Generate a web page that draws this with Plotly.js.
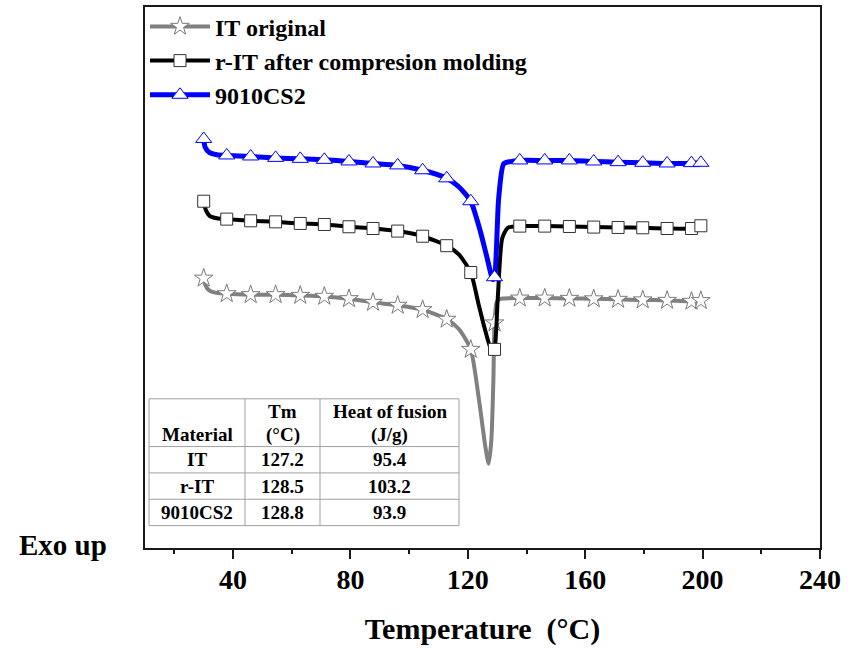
<!DOCTYPE html>
<html>
<head>
<meta charset="utf-8">
<script src="https://cdn.plot.ly/plotly-3.0.1.min.js"></script>
<style>html,body{margin:0;padding:0;background:#fff;}#chart{width:854px;height:650px;}</style>
</head>
<body>
<div id="chart"></div>
<script>
// ---- Data (temperature in °C, heat flow in arbitrary units, exo up) ----
const SERIES_NAMES = ["IT original", "r-IT after compresion molding", "9010CS2"];

const T_IT = [30, 30.5, 31.5, 33.5, 37.85, 46.0, 54.5, 62.9, 71.1, 79.5, 87.7, 96.1, 104.6, 112.8, 117.0, 121.0, 123.7, 126.0, 127.1, 128.0, 128.7, 129.1, 129.8, 131.0, 137.7, 146.2, 154.6, 162.9, 171.2, 179.6, 187.9, 196.2, 199.4];
const Y_IT = [49.87, 48.71, 47.79, 47.24, 47.00, 46.82, 46.82, 46.69, 46.51, 46.08, 45.40, 44.85, 44.06, 42.28, 40.44, 36.71, 27.81, 18.62, 15.57, 19.85, 30.88, 41.60, 45.40, 46.05, 46.19, 46.19, 46.14, 46.05, 45.96, 45.86, 45.77, 45.59, 45.72];

const T_RIT = [30, 30.7, 32, 34.5, 37.85, 46.0, 54.5, 62.9, 71.1, 79.5, 87.7, 96.1, 104.6, 112.8, 117.0, 121.0, 123.7, 126.0, 128.3, 129.1, 130.2, 131.7, 133.6, 137.7, 146.2, 154.6, 162.9, 171.2, 179.6, 187.9, 196.2, 199.4];
const Y_RIT = [64.10, 62.50, 61.40, 60.94, 60.79, 60.48, 60.29, 59.99, 59.80, 59.38, 59.06, 58.58, 57.63, 55.88, 54.23, 50.92, 44.98, 40.07, 36.12, 36.71, 46.19, 57.22, 59.19, 59.50, 59.50, 59.43, 59.32, 59.25, 59.19, 59.06, 59.06, 59.56];

const T_CS2 = [30, 30.5, 32, 34.5, 37.85, 46.0, 54.5, 62.9, 71.1, 79.5, 87.7, 96.1, 104.6, 112.8, 117.0, 121.0, 124.3, 126.6, 128.5, 129.1, 130.5, 132.2, 134.5, 137.7, 146.2, 154.6, 162.9, 171.2, 179.6, 187.9, 196.2, 199.4];
const Y_CS2 = [75.61, 74.08, 73.07, 72.70, 72.56, 72.37, 72.11, 71.93, 71.75, 71.45, 71.08, 70.72, 69.82, 68.33, 66.73, 64.10, 58.46, 53.55, 49.63, 50.05, 64.58, 71.01, 71.42, 71.64, 71.64, 71.64, 71.45, 71.32, 71.20, 71.08, 71.14, 71.20];

// temperatures at which the symbols are drawn
const MARKER_T = [30, 37.85, 46.0, 54.5, 62.9, 71.1, 79.5, 87.7, 96.1, 104.6, 112.8, 121.0, 129.1, 137.7, 146.2, 154.6, 162.9, 171.2, 179.6, 187.9, 196.2, 199.4];

// inset table
const TABLE_HEADER = [["Material"], ["Tm", "(°C)"], ["Heat of fusion", "(J/g)"]];
const TABLE_MATERIAL = ["IT", "r-IT", "9010CS2"];
const TABLE_TM = ["127.2", "128.5", "128.8"];
const TABLE_HF = ["95.4", "103.2", "93.9"];

const X_TICKS = [40, 80, 120, 160, 200, 240];

// ---- Chart ----
const FONT = "Liberation Serif, Times New Roman, serif";
const W = 854, H = 650, ML = 145, MR = 34, MT = 4, MB = 102;
const PW = W - ML - MR, PH = H - MT - MB;
const px2x = p => (p - ML) / PW;            // page px -> paper x
const px2y = p => (H - MB - p) / PH;        // page px -> paper y

function curve(name, T, Y, lineColor, lineWidth, symbol, size, edgeColor) {
  const isM = T.map(t => MARKER_T.indexOf(t) >= 0);
  return {
    type: "scatter", mode: "lines+markers", name: name,
    x: T, y: Y,
    line: {color: lineColor, width: lineWidth, shape: "spline", smoothing: 0.6},
    marker: {
      symbol: symbol, size: size,
      color: isM.map(m => m ? "#ffffff" : "rgba(0,0,0,0)"),
      line: {width: 1, color: isM.map(m => m ? edgeColor : "rgba(0,0,0,0)")}
    },
    hoverinfo: "skip"
  };
}

const traces = [
  curve(SERIES_NAMES[0], T_IT, Y_IT, "#808080", 4, "star", 14, "#7a7a7a"),
  curve(SERIES_NAMES[1], T_RIT, Y_RIT, "#000000", 4, "square", 12, "#333333"),
  curve(SERIES_NAMES[2], T_CS2, Y_CS2, "#0000ff", 5, "triangle-up", 14, "#0000ff")
];

// ---- inset table built from the arrays ----
const TB = {left: 149, right: 459, top: 398, colEdges: [149, 245, 320, 459], headerH: 48, rowH: 26.5, lineGap: 23};
const tableShapes = [];
const tableAnn = [];
const nRows = TABLE_MATERIAL.length;
const bottom = TB.top + TB.headerH + nRows * TB.rowH;
const gridLine = {color: "#a0a0a0", width: 1};
tableShapes.push({type: "rect", xref: "paper", yref: "paper", x0: px2x(TB.left), x1: px2x(TB.right), y0: px2y(bottom), y1: px2y(TB.top), line: gridLine, fillcolor: "#ffffff", layer: "below"});
TB.colEdges.slice(1, -1).forEach(cx => tableShapes.push({type: "line", xref: "paper", yref: "paper", x0: px2x(cx), x1: px2x(cx), y0: px2y(bottom), y1: px2y(TB.top), line: gridLine}));
for (let r = 0; r < nRows; r++) {
  const ry = TB.top + TB.headerH + r * TB.rowH;
  tableShapes.push({type: "line", xref: "paper", yref: "paper", x0: px2x(TB.left), x1: px2x(TB.right), y0: px2y(ry), y1: px2y(ry), line: gridLine});
}
const cellFont = {family: FONT, size: 19, color: "#000", weight: "bold"};
TABLE_HEADER.forEach((lines, c) => {
  const cx = (TB.colEdges[c] + TB.colEdges[c + 1]) / 2;
  lines.forEach((ln, i) => {
    const cy = TB.top + TB.headerH - 12 - (lines.length - 1 - i) * TB.lineGap;
    tableAnn.push({text: ln, xref: "paper", yref: "paper", x: px2x(cx), y: px2y(cy), xanchor: "center", yanchor: "middle", showarrow: false, font: cellFont});
  });
});
[TABLE_MATERIAL, TABLE_TM, TABLE_HF].forEach((col, c) => {
  const cx = (TB.colEdges[c] + TB.colEdges[c + 1]) / 2;
  col.forEach((v, r) => {
    const cy = TB.top + TB.headerH + (r + 0.5) * TB.rowH;
    tableAnn.push({text: v, xref: "paper", yref: "paper", x: px2x(cx), y: px2y(cy), xanchor: "center", yanchor: "middle", showarrow: false, font: cellFont});
  });
});

const layout = {
  width: W, height: H,
  margin: {l: ML, r: MR, t: MT, b: MB},
  paper_bgcolor: "#ffffff", plot_bgcolor: "rgba(0,0,0,0)",
  showlegend: true,
  legend: {
    x: 0, y: 1.005, xanchor: "left", yanchor: "top",
    bgcolor: "rgba(0,0,0,0)", borderwidth: 0,
    font: {family: FONT, size: 24, color: "#000", weight: "bold"},
    itemwidth: 60, tracegroupgap: 0
  },
  xaxis: {
    range: [10, 240], tickvals: X_TICKS, ticktext: X_TICKS.map(String),
    showgrid: false, zeroline: false,
    showline: true, linecolor: "#1a1a1a", linewidth: 2, mirror: true,
    ticks: "outside", ticklen: 9, tickwidth: 2, tickcolor: "#1a1a1a",
    minor: {ticks: "outside", ticklen: 4, tickwidth: 2, tickcolor: "#1a1a1a", tickvals: [20, 60, 100, 140, 180, 220]},
    tickfont: {family: FONT, size: 28, color: "#000", weight: "bold"},
    ticklabelstandoff: -4,
    title: {text: "Temperature  (°C)", font: {family: FONT, size: 30, color: "#000", weight: "bold"}, standoff: 24}
  },
  yaxis: {
    range: [0, 100], showgrid: false, zeroline: false,
    showline: true, linecolor: "#1a1a1a", linewidth: 2, mirror: true,
    ticks: "", showticklabels: false
  },
  shapes: tableShapes,
  annotations: [{
    text: "Exo up", xref: "paper", yref: "paper",
    x: px2x(109), y: px2y(545), xanchor: "right", yanchor: "middle", showarrow: false,
    font: {family: FONT, size: 29, color: "#000", weight: "bold"}
  }].concat(tableAnn)
};

Plotly.newPlot("chart", traces, layout, {displayModeBar: false, staticPlot: true});
</script>
</body>
</html>
